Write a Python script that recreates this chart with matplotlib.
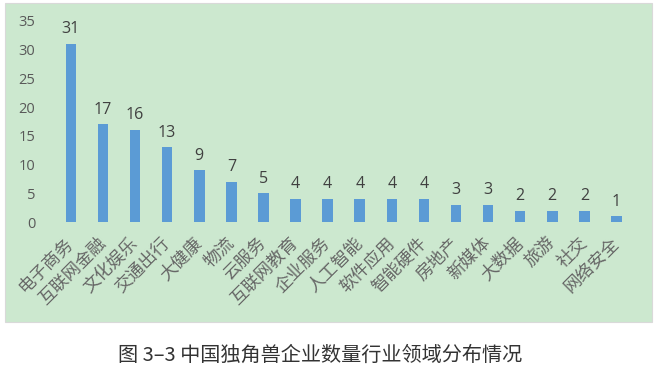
import matplotlib.pyplot as plt
from matplotlib.patches import Rectangle

plt.rcParams['font.family'] = ['Noto Sans CJK SC', 'DejaVu Sans']

categories = ['电子商务', '互联网金融', '文化娱乐', '交通出行', '大健康', '物流', '云服务',
              '互联网教育', '企业服务', '人工智能', '软件应用', '智能硬件', '房地产',
              '新媒体', '大数据', '旅游', '社交', '网络安全']
counts = [31, 17, 16, 13, 9, 7, 5, 4, 4, 4, 4, 4, 3, 3, 2, 2, 2, 1]
yticks = [0, 5, 10, 15, 20, 25, 30, 35]

fig = plt.figure(figsize=(6.55, 3.74), dpi=100)
fig.patch.set_facecolor('white')

# green chart area
bg = Rectangle((5 / 655, 52 / 374), 647 / 655, 319 / 374, transform=fig.transFigure,
               facecolor='#cce8cf', edgecolor='#d9d9d9', linewidth=0.8, zorder=-10)
fig.patches.append(bg)

ax = fig.add_axes([0.0837, 0.406, 0.882, 0.538])
ax.set_facecolor('none')
ax.set_zorder(1)

x = range(len(categories))
bars = ax.bar(x, counts, width=0.33, color='#5b9bd5')

for xi, v in zip(x, counts):
    ax.text(xi, v + 1.2, str(v), ha='center', va='bottom', fontsize=11.5, color='#404040',
            family=['Open Sans', 'DejaVu Sans'])

ax.set_xlim(-0.5, len(categories) - 0.5)
ax.set_ylim(0, 35)
ax.set_yticks(yticks)
ax.set_yticklabels([str(t) for t in yticks], fontsize=10.5, color='#595959',
                   family=['Open Sans', 'DejaVu Sans'])
ax.set_xticks(list(x))
ax.set_xticklabels(categories, rotation=45, ha='right', va='center', rotation_mode='anchor',
                   fontsize=12.5, color='#666666', fontweight='light')
ax.tick_params(axis='both', length=0)
ax.tick_params(axis='y', pad=14)
ax.tick_params(axis='x', pad=13)
for s in ax.spines.values():
    s.set_visible(False)

fig.text(0.489, 0.05, '图 3–3 中国独角兽企业数量行业领域分布情况', ha='center', va='center',
         fontsize=14.5, color='#333333', fontweight='light')

fig.savefig('out.png', dpi=100)
